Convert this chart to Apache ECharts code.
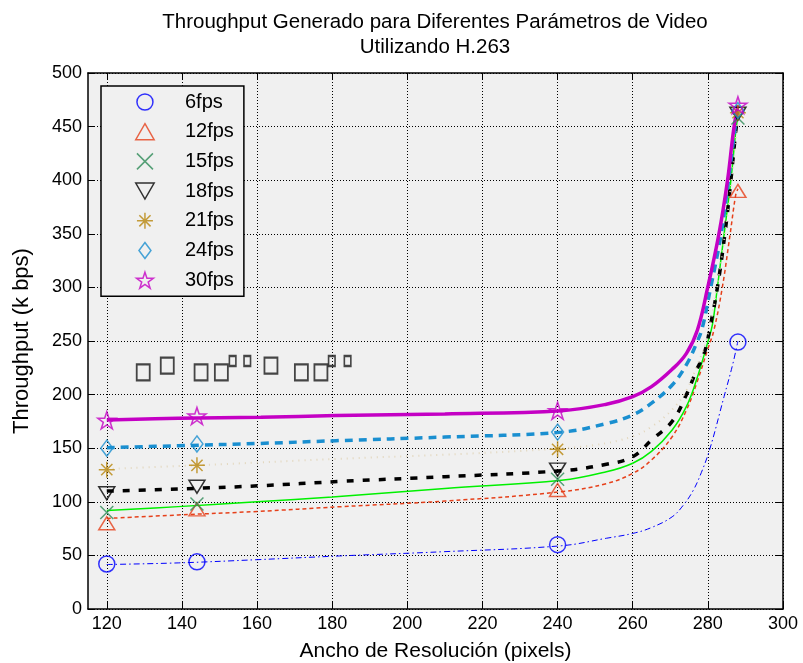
<!DOCTYPE html>
<html>
<head>
<meta charset="utf-8">
<script src="https://cdn.jsdelivr.net/npm/echarts@6/dist/echarts.min.js"></script>
<style>
  html, body { margin: 0; padding: 0; background: #ffffff; }
  #chart { width: 803px; height: 663px; }
</style>
</head>
<body>
<div id="chart"></div>
<script>
// Measured resolutions (frame width in pixels) and throughput per frame rate (kbps)
const resolutions = [120, 144, 240, 288];
const fps6  = [42, 44, 60, 249];
const fps12 = [80, 93, 111, 390];
const fps15 = [90, 98, 121, 458];
const fps18 = [108, 114, 130, 462];
const fps21 = [130, 134, 149, 463];
const fps24 = [150, 154, 165, 465];
const fps30 = [176, 180, 185, 470];

// Fitted trend curves, [width, kbps]
const curve6  = [[120,41.5],[139,43],[160,46],[182,49.5],[210,53.5],[241,59],[253,66],[260,70.5],[265,76],[270.5,86],[273.5,97],[276,110],[278,125],[280.5,149],[284.3,198],[286.6,228],[288,250]];
const curve12 = [[120,84.5],[139,87.7],[160,91],[182,95.4],[210,100.7],[241,109.4],[253,117],[260,126.5],[265,139],[270.5,160.7],[274.3,185.6],[277,210.5],[279.9,241.6],[281.6,260],[283.8,299],[285.9,349],[287.4,386],[288,392]];
const curve15 = [[120,92],[139,95.5],[160,100],[180,104.5],[210,112.5],[241,120],[253,128],[260,136],[265,147],[270.5,167],[274.3,189],[277,214],[279.9,248],[281.2,265],[282.5,299],[284.3,349],[286.1,399],[287.5,448],[288,460]];
const curve18 = [[120,110],[139,112],[161,115],[182,119],[210,123.4],[241,129],[253,135],[260,142],[265,157.6],[270.5,175],[274.3,200],[277,223],[279,238],[280.7,265],[282.5,299],[284.5,349],[286.1,399],[287.5,448],[288,460]];
const curve21 = [[120,130.5],[150,135],[181,140],[210,144],[234,148.3],[250,153],[260,161],[265,170],[270.5,186],[274.3,204],[277,226],[279.1,245],[281,272],[283,312],[285,362],[286.8,415],[288,463]];
const curve24 = [[120,150.5],[139,152.3],[161,154.5],[181,157],[210,160.4],[241,165],[253,173],[260,181],[265,192],[270.5,209],[274.3,228],[277,248],[278.5,262],[280.7,299],[283.5,349],[285.5,400],[287.2,448],[288,466]];
const curve30 = [[120,176.3],[139,177.9],[161,178.8],[181,180.5],[210,182],[241,185],[253,191],[260,198],[265,207.4],[270.5,223.6],[274.3,238.5],[277.2,260],[279.9,299],[282.9,349],[285.2,399],[286.9,448],[288,470]];

// Stray square glyph marks inside the plot, [width, kbps]
const boxesLarge = [[129.7,220.8],[136.1,227],[145.1,220.8],[150.5,220.8],[163.7,227],[171.8,220.8],[177,220.8]];
const boxesSmall = [[153.5,231.3],[157.4,231.3],[179.9,231.3],[184.1,231.3]];

// Axis ticks
const xTicks = [120, 140, 160, 180, 200, 220, 240, 260, 280, 300];

const FONT = "'Liberation Sans', Arial, Helvetica, sans-serif";

// Outline marker shapes
const STAR = 'path://M10,0L12.245,6.91L19.51,6.91L13.63,11.18L15.88,18.09L10,13.82L4.12,18.09L6.37,11.18L0.49,6.91L7.755,6.91Z';
const CROSS = 'path://M0,0L10,10M10,0L0,10';
const ASTER = 'path://M5,0L5,10M0,5L10,5M1.5,1.5L8.5,8.5M8.5,1.5L1.5,8.5';
const TRI_UP = 'path://M5,0L10,8.7L0,8.7Z';
const TRI_DOWN = 'path://M0,0L10,0L5,8.7Z';
const DIAMOND = 'path://M6,0L12,8L6,16L0,8Z';

const groups = [
  { name: '6fps',  vals: fps6,  curve: curve6,  mark: '#0000ff', symbol: 'circle', size: 16,      line: { color: '#0000ff', width: 1,   type: [6, 3, 1.5, 3] } },
  { name: '12fps', vals: fps12, curve: curve12, mark: '#e6401a', symbol: TRI_UP,   size: [16, 13], line: { color: '#e6401a', width: 1.5, type: [4, 3] } },
  { name: '15fps', vals: fps15, curve: curve15, mark: '#2e8b57', symbol: CROSS,    size: [13, 13], line: { color: '#00f000', width: 1.5, type: 'solid' } },
  { name: '18fps', vals: fps18, curve: curve18, mark: '#000000', symbol: TRI_DOWN, size: [16, 13], line: { color: '#000000', width: 3.5, type: [7, 9] } },
  { name: '21fps', vals: fps21, curve: curve21, mark: '#b8860b', symbol: ASTER,    size: [16, 16], line: { color: '#e2d6bc', width: 2,   type: [1, 5] } },
  { name: '24fps', vals: fps24, curve: curve24, mark: '#1a8fd0', symbol: DIAMOND,  size: [12, 16], line: { color: '#1a8fd0', width: 3.5, type: [8, 6] } },
  { name: '30fps', vals: fps30, curve: curve30, mark: '#c400c4', symbol: STAR,     size: [18, 17], line: { color: '#c400c4', width: 3.5, type: 'solid' } }
];

const series = [];
groups.forEach(function (g) {
  series.push({
    type: 'line',
    name: g.name + ' ajuste',
    data: g.curve,
    showSymbol: false,
    symbol: 'none',
    smooth: 0.4,
    silent: true,
    z: 2,
    lineStyle: g.line
  });
});
groups.forEach(function (g) {
  series.push({
    type: 'scatter',
    name: g.name,
    data: resolutions.map(function (x, i) { return [x, g.vals[i]]; }),
    symbol: g.symbol,
    symbolSize: g.size,
    silent: true,
    z: 5,
    itemStyle: { color: 'transparent', borderColor: g.mark, borderWidth: 1.5 }
  });
});
series.push({
  type: 'scatter', name: 'cajas', data: boxesLarge, symbol: 'rect', symbolSize: [13, 16],
  silent: true, z: 4, itemStyle: { color: 'transparent', borderColor: '#1a1a1a', borderWidth: 2 }
});
series.push({
  type: 'scatter', name: 'cajas pequeñas', data: boxesSmall, symbol: 'rect', symbolSize: [6.5, 10],
  silent: true, z: 4, itemStyle: { color: 'transparent', borderColor: '#1a1a1a', borderWidth: 2 }
});

const axisLine = { show: true, onZero: false, lineStyle: { color: '#000', width: 1.5 } };
const tickStyle = { color: '#000', width: 1 };
const gridDots = { show: true, lineStyle: { color: '#000', width: 1, type: [1, 2] } };

const option = {
  animation: false,
  backgroundColor: '#ffffff',
  title: {
    text: 'Throughput Generado para Diferentes Parámetros de Video\nUtilizando H.263',
    left: 430,
    top: 5,
    textAlign: 'center',
    textStyle: { fontFamily: FONT, fontSize: 20.5, fontWeight: 'normal', lineHeight: 25, color: '#000' }
  },
  legend: {
    data: groups.map(function (g) { return g.name; }),
    orient: 'vertical',
    left: 101,
    top: 86,
    padding: [6, 10, 6, 34],
    itemWidth: 70,
    itemHeight: 16,
    itemGap: 9.7,
    selectedMode: false,
    backgroundColor: '#f0f0f0',
    borderColor: '#000',
    borderWidth: 1.5,
    itemStyle: { borderWidth: 1.5 },
    textStyle: { fontFamily: FONT, fontSize: 20, lineHeight: 20, color: '#000' }
  },
  grid: {
    left: 88, right: 20, top: 73, bottom: 54,
    outerBoundsMode: 'none',
    containLabel: false,
    show: true, backgroundColor: '#f0f0f0', borderWidth: 0
  },
  xAxis: [
    {
      type: 'value', min: 115, max: 300, position: 'bottom',
      name: 'Ancho de Resolución (pixels)', nameLocation: 'middle', nameGap: 32,
      nameTextStyle: { fontFamily: FONT, fontSize: 21, color: '#000' },
      axisLine: axisLine,
      axisTick: { show: true, inside: true, length: 7, customValues: xTicks, lineStyle: tickStyle },
      axisLabel: { customValues: xTicks, color: '#000', fontFamily: FONT, fontSize: 18, margin: 6 },
      splitLine: gridDots
    },
    {
      type: 'value', min: 115, max: 300, position: 'top',
      axisLine: axisLine,
      axisTick: { show: true, inside: true, length: 7, customValues: xTicks, lineStyle: tickStyle },
      axisLabel: { show: false },
      splitLine: { show: false }
    }
  ],
  yAxis: [
    {
      type: 'value', min: 0, max: 500, interval: 50, position: 'left',
      name: 'Throughput (k bps)', nameLocation: 'middle', nameGap: 55,
      nameTextStyle: { fontFamily: FONT, fontSize: 22, color: '#000' },
      axisLine: axisLine,
      axisTick: { show: true, inside: true, length: 7, lineStyle: tickStyle },
      axisLabel: { color: '#000', fontFamily: FONT, fontSize: 18, margin: 6 },
      splitLine: gridDots
    },
    {
      type: 'value', min: 0, max: 500, interval: 50, position: 'right',
      axisLine: axisLine,
      axisTick: { show: true, inside: true, length: 7, lineStyle: tickStyle },
      axisLabel: { show: false },
      splitLine: { show: false }
    }
  ],
  series: series
};

const chart = echarts.init(document.getElementById('chart'), null, { renderer: 'canvas' });
chart.setOption(option);
</script>
</body>
</html>
